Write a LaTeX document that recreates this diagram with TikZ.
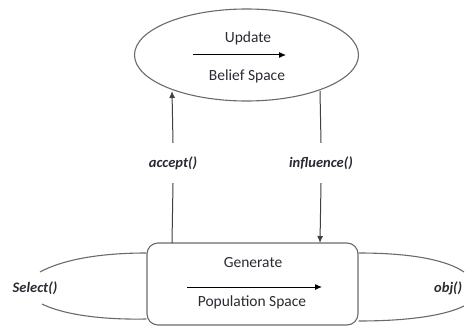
\documentclass[tikz,border=0pt]{standalone}
\usepackage{fontspec}
\setmainfont{Carlito}
\usetikzlibrary{shapes.geometric,arrows.meta}
\definecolor{txt}{HTML}{2A2A32}
\definecolor{ln}{HTML}{6A6A6A}
\begin{document}
\begin{tikzpicture}[x=1pt,y=-1pt,
  shapeline/.style={draw=ln,line width=1.1pt},
  maintext/.style={font=\fontsize{15.5}{17}\selectfont,text=txt,inner sep=0pt},
  lbl/.style={font=\fontsize{14.5}{16}\selectfont\bfseries\itshape,text=txt,inner sep=0pt,minimum height=40pt},
  conn/.style={draw=ln!60!black,line width=1pt},
  tip/.style={-{Latex[length=7pt,width=6pt]}}]
\useasboundingbox (0,0) rectangle (466,329);
% belief space ellipse
\node[ellipse,shapeline,minimum width=224pt,minimum height=92pt,inner sep=0pt] (belief) at (246.5,55) {};
\node[maintext] (upd) at (248,38) {Update};
\node[maintext] (bs) at (247,76) {Belief Space};
\coordinate (ua1) at (193,55);
\coordinate (ua2) at (286,55);
\draw[conn,tip,draw=black] (ua1) -- (ua2);
% population space box
\node[draw=ln,line width=1.1pt,rounded corners=11pt,minimum width=211pt,minimum height=82pt,inner sep=0pt] (pop) at (252.5,284) {};
\node[maintext] (gen) at (253,263) {Generate};
\node[maintext] (ps) at (252,302) {Population Space};
\coordinate (pa1) at (187,287);
\coordinate (pa2) at (322,287);
\draw[conn,tip,draw=black] (pa1) -- (pa2);
% accept
\coordinate (acc0) at (172,243);
\coordinate (acc1) at (172,91);
\node[lbl] (acc) at (173,163) {accept()};
\draw[conn] (acc0) -- (acc.south);
\draw[conn,tip] (acc.north) -- (acc1);
% influence
\coordinate (inf0) at (320,91);
\coordinate (inf1) at (320,243);
\node[lbl] (inf) at (321,163) {influence()};
\draw[conn] (inf0) -- (inf.north);
\draw[conn,tip] (inf.south) -- (inf1);
% select
\node[lbl] (sel) at (35,288) {Select()};
\coordinate (sl1) at (40,272);
\coordinate (sl2) at (42,304);
\draw[shapeline] (pop.north west |- 0,253) .. controls (95,253) and (60,261) .. (sl1);
\draw[shapeline] (pop.south west |- 0,319) .. controls (95,320) and (60,313) .. (sl2);
% obj
\node[lbl,anchor=west] (obj) at (434,288) {obj()};
\coordinate (sr1) at (464,272);
\coordinate (sr2) at (464,306);
\draw[shapeline] (pop.north east |- 0,253) .. controls (415,253) and (448,261) .. (sr1);
\draw[shapeline] (pop.south east |- 0,321) .. controls (415,321) and (448,314) .. (sr2);
\end{tikzpicture}
\end{document}
